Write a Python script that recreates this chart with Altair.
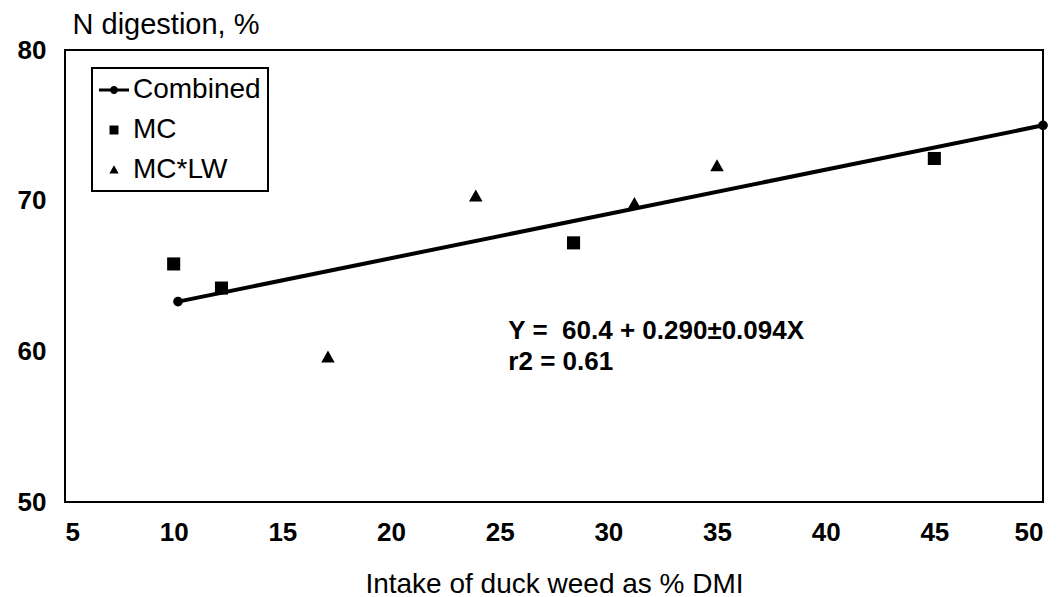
import altair as alt
import pandas as pd

# ---- data ----
series_names = ["Combined", "MC", "MC*LW"]

mc_x = [10.0, 12.2, 28.4, 45.0]
mc_y = [65.8, 64.2, 67.2, 72.8]

mclw_x = [17.1, 23.9, 31.2, 35.0]
mclw_y = [59.6, 70.3, 69.8, 72.3]

comb_x = [10.2, 50.0]
comb_y = [63.3, 75.0]

x_ticks = [5, 10, 15, 20, 25, 30, 35, 40, 45, 50]
y_ticks = [50, 60, 70, 80]

eq_lines = ["Y =\u00a0 60.4 + 0.290\u00b10.094X", "r2 = 0.61"]
eq_x = [25.4, 25.4]
eq_y = [61.35, 59.3]

# ---- tables ----
pts = pd.DataFrame(
    {"x": mc_x + mclw_x,
     "y": mc_y + mclw_y,
     "series": ["MC"] * len(mc_x) + ["MC*LW"] * len(mclw_x)}
)
comb = pd.DataFrame({"x": comb_x, "y": comb_y})
eq = pd.DataFrame({"x": eq_x, "y": eq_y, "t": eq_lines})

FONT = "Liberation Sans"

# custom symbols (unit space -1..1 spans sqrt(size))
comb_path = ("M-1,-0.1H1V0.1H-1Z "
             "M-0.27,0A0.27,0.27,0,1,1,0.27,0A0.27,0.27,0,1,1,-0.27,0Z")
sq_path = "M-0.3,-0.3H0.3V0.3H-0.3Z"
tri_path = "M0,-0.31L0.31,0.24L-0.31,0.24Z"

xscale = alt.Scale(domain=[5, 50], nice=False, zero=False)
yscale = alt.Scale(domain=[50, 80], nice=False, zero=False)

xaxis = alt.Axis(
    values=x_ticks, title="Intake of duck weed as % DMI",
    labelFontSize=26, labelFontWeight="bold", labelPadding=17,
    titleFontSize=28, titleFontWeight="normal", titleY=90,
    titleBaseline="alphabetic",
)
yaxis = alt.Axis(
    values=y_ticks, title="N digestion, %",
    labelFontSize=26, labelFontWeight="bold", labelPadding=19,
    titleAngle=0, titleAlign="left", titleX=7, titleY=-26,
    titleBaseline="middle", titleFontSize=29, titleFontWeight="normal",
)

X = alt.X("x:Q", scale=xscale, axis=xaxis)
Y = alt.Y("y:Q", scale=yscale, axis=yaxis)

line = alt.Chart(comb).mark_line(
    color="black", strokeWidth=4,
    point=alt.OverlayMarkDef(filled=True, size=95, color="black", opacity=1),
).encode(x=X, y=Y)

points = alt.Chart(pts).mark_point(
    filled=True, size=1900, color="black", opacity=1, strokeWidth=0
).encode(
    x=X, y=Y,
    shape=alt.Shape(
        "series:N",
        scale=alt.Scale(domain=series_names, range=[comb_path, sq_path, tri_path]),
        legend=alt.Legend(
            title=None, orient="none", legendX=27, legendY=18,
            strokeColor="black", padding=7, rowPadding=11,
            symbolSize=900, symbolFillColor="black", symbolStrokeWidth=0,
            symbolOpacity=1, labelFontSize=28, labelOffset=4,
            labelFont=FONT, labelColor="black",
        ),
    ),
)

text = alt.Chart(eq).mark_text(
    align="left", baseline="middle", fontSize=26, fontWeight="bold",
    font=FONT, color="black",
).encode(x=X, y=Y, text="t:N")

chart = (
    alt.layer(line, points, text)
    .properties(
        width=978, height=452,
        autosize=alt.AutoSizeParams(type="none"),
        padding={"left": 65, "top": 50, "right": 19, "bottom": 95},
        background="white",
    )
    .configure_view(stroke="black", strokeWidth=2)
    .configure_axis(
        domain=False, ticks=False, grid=False,
        labelFont=FONT, titleFont=FONT,
        labelColor="black", titleColor="black",
    )
    .configure_legend(strokeWidth=2)
)

chart.save("out.html", embed_options={"renderer": "svg", "actions": False})
